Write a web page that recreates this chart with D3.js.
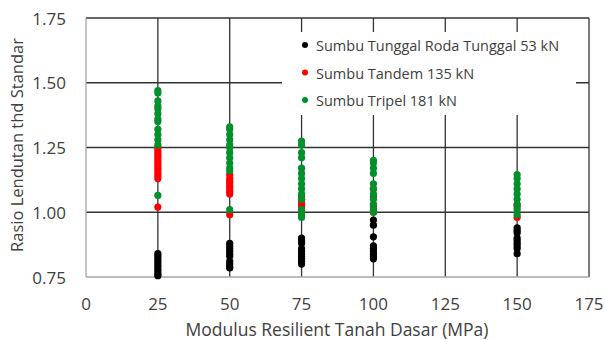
<!DOCTYPE html>
<html><head><meta charset="utf-8">
<script src="https://cdn.jsdelivr.net/npm/d3@7"></script>
<style>body{margin:0;background:#fff}svg{display:block}text{font-family:"Open Sans",sans-serif;fill:#404040}</style>
</head><body><svg id="c" width="605" height="340"></svg>
<script>
const categories = [25, 50, 75, 100, 150];
const xTicks = [0, 25, 50, 75, 100, 125, 150, 175];
const yTicks = [0.75, 1.00, 1.25, 1.50, 1.75];
const seriesNames = ["Sumbu Tunggal Roda Tunggal 53 kN", "Sumbu Tandem 135 kN", "Sumbu Tripel 181 kN"];
const seriesColors = ["#000000", "#ff0000", "#00912a"];
const tunggal53 = [
  [0.84, 0.83, 0.82, 0.81, 0.80, 0.79, 0.78, 0.77, 0.76, 0.755],
  [0.88, 0.87, 0.86, 0.85, 0.84, 0.83, 0.81, 0.80, 0.79, 0.785],
  [0.90, 0.89, 0.88, 0.86, 0.85, 0.84, 0.83, 0.82, 0.81, 0.80],
  [0.97, 0.95, 0.905, 0.87, 0.86, 0.85, 0.84, 0.83, 0.82],
  [0.94, 0.93, 0.92, 0.90, 0.89, 0.88, 0.87, 0.86, 0.84]
];
const tandem135 = [
  [1.25, 1.24, 1.23, 1.22, 1.21, 1.20, 1.19, 1.18, 1.17, 1.16, 1.15, 1.14, 1.13, 1.02],
  [1.145, 1.13, 1.12, 1.11, 1.10, 1.09, 1.08, 1.07, 0.99],
  [1.06, 1.05, 1.04, 1.03, 1.02, 1.01, 0.99],
  [1.09, 1.06, 1.03, 1.02, 1.01, 1.00],
  [1.03, 1.02, 0.98]
];
const tripel181 = [
  [1.47, 1.46, 1.43, 1.41, 1.40, 1.38, 1.36, 1.35, 1.32, 1.30, 1.28, 1.26, 1.065],
  [1.33, 1.32, 1.30, 1.28, 1.26, 1.25, 1.23, 1.21, 1.19, 1.17, 1.16, 1.01],
  [1.275, 1.26, 1.23, 1.21, 1.17, 1.15, 1.13, 1.11, 1.09, 1.07, 1.05, 1.01, 0.99, 0.98],
  [1.20, 1.19, 1.17, 1.15, 1.11, 1.09, 1.07, 1.05, 1.03, 1.01, 1.00],
  [1.145, 1.13, 1.11, 1.09, 1.07, 1.05, 1.03, 1.01, 0.99]
];
const allSeries = [tunggal53, tandem135, tripel181];

const svg = d3.select("#c");
const x = d3.scaleLinear().domain([0, 175]).range([86, 589]);
const y = d3.scaleLinear().domain([0.75, 1.75]).range([277, 18]);

// gridlines
const grid = svg.append("g").attr("stroke", "#333").attr("stroke-width", 1.3);
grid.selectAll("line.h").data(yTicks.slice(1)).join("line")
  .attr("x1", x(0)).attr("x2", x(175)).attr("y1", d => y(d)).attr("y2", d => y(d));
grid.selectAll("line.v").data(xTicks.slice(1)).join("line")
  .attr("x1", d => x(d)).attr("x2", d => x(d)).attr("y1", y(0.75)).attr("y2", y(1.75));
// axes lines
svg.append("line").attr("x1", x(0)).attr("x2", x(0)).attr("y1", y(0.75)).attr("y2", y(1.75)).attr("stroke", "#a6a6a6").attr("stroke-width", 1.3);
svg.append("line").attr("x1", x(0)).attr("x2", x(175)).attr("y1", y(0.75)).attr("y2", y(0.75)).attr("stroke", "#a6a6a6").attr("stroke-width", 1.3);

// tick labels
svg.append("g").selectAll("text").data(yTicks).join("text")
  .attr("x", 66).attr("y", d => y(d) + 6.5).attr("text-anchor", "end")
  .style("font-size", "17px").text(d => d.toFixed(2));
svg.append("g").selectAll("text").data(xTicks).join("text")
  .attr("x", d => x(d)).attr("y", 310).attr("text-anchor", "middle")
  .style("font-size", "17px").text(d => d);

// axis titles
svg.append("text").attr("x", 337).attr("y", 336).attr("text-anchor", "middle")
  .style("font-size", "17.5px").text("Modulus Resilient Tanah Dasar (MPa)");
svg.append("text").attr("transform", "translate(23,145) rotate(-90)").attr("text-anchor", "middle")
  .style("font-size", "16.5px").text("Rasio Lendutan thd Standar");

// points
allSeries.forEach((ser, si) => {
  const pts = [];
  ser.forEach((vals, ci) => vals.forEach(v => pts.push([categories[ci], v])));
  svg.append("g").selectAll("circle").data(pts).join("circle")
    .attr("cx", d => x(d[0])).attr("cy", d => y(d[1])).attr("r", 3.6)
    .attr("fill", seriesColors[si]);
});

// legend
const lg = svg.append("g");
lg.append("rect").attr("x", 282).attr("y", 32).attr("width", 294).attr("height", 83).attr("fill", "#fff");
seriesNames.forEach((n, i) => {
  lg.append("circle").attr("cx", 305).attr("cy", 45 + i * 27.5).attr("r", 3).attr("fill", seriesColors[i]);
  lg.append("text").attr("x", 316).attr("y", 51 + i * 27.5).style("font-size", "14.5px").text(n);
});
</script></body></html>
